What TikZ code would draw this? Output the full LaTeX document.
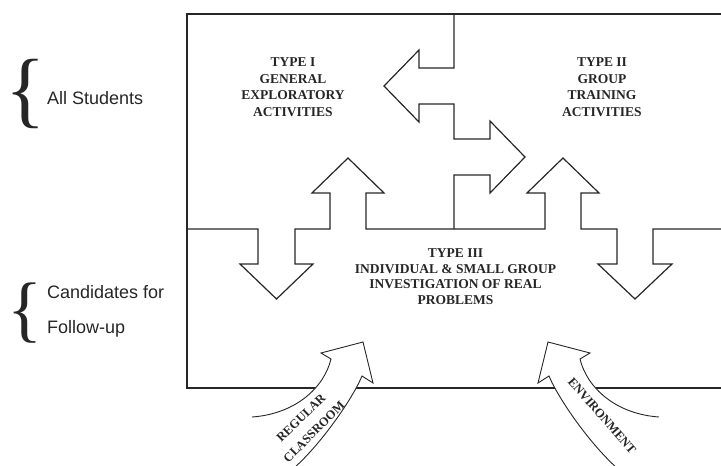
\documentclass[tikz,border=0pt]{standalone}
\usepackage{fontspec}
\setmainfont{Liberation Serif}
\newfontfamily\labelfont{Liberation Sans}

\begin{document}
\begin{tikzpicture}[x=1pt, y=-1pt,
                    wall/.style={draw=black!85, line width=1.2pt, line join=miter},
                    sweep/.style={draw=black!85, fill=white, line width=0.9pt},
                    typetext/.style={font=\bfseries\fontsize{13.5}{16.6}\selectfont, align=center, text=black!85, inner sep=0pt},
                    armtext/.style={font=\bfseries\fontsize{12.5}{14}\selectfont, text=black!85, inner sep=0pt},
                    side/.style={font=\labelfont\fontsize{18}{20}\selectfont, text=black!85, inner sep=0pt, anchor=base west},
                    curly/.style={inner sep=0pt, text=black!85}]

\useasboundingbox (0,0) rectangle (721,466);

% Frame, open at the right side
\draw[wall] (721,14) -- (187,14) -- (187,388) -- (721,388);

% Divider between Type I and Type II, with its two arrows
\draw[wall] (454,14) -- (454,68) -- (419,68) -- (419,50) -- (384,86) -- (419,122) -- (419,104) -- (454,104)
  -- (454,139) -- (490,139) -- (490,121) -- (525,157) -- (490,193) -- (490,175) -- (454,175) -- (454,229);

% Divider above Type III, with the up and down arrows
\draw[wall] (187,229) -- (258,229) -- (258,264) -- (240,264) -- (276.5,299) -- (313,264) -- (295,264) -- (295,229)
  -- (330,229) -- (330,193) -- (312,193) -- (348,158) -- (384,193) -- (366,193) -- (366,229)
  -- (545,229) -- (545,193) -- (527,193) -- (563,158) -- (599,193) -- (581,193) -- (581,229)
  -- (617,229) -- (617,264) -- (598,264) -- (635,299) -- (672,264) -- (653,264) -- (653,229) -- (721,229);

% Curved arrows coming in from below
\filldraw[sweep] (252,417) .. controls (295,414) and (324,388) .. (331,359) -- (321,353) -- (363,342)
  -- (373,383) -- (362,376) .. controls (352,400) and (320,445) .. (294,468);
\filldraw[sweep] (659,417) .. controls (616,414) and (587,388) .. (580,359) -- (590,353) -- (548,342)
  -- (538,383) -- (549,376) .. controls (559,400) and (591,445) .. (617,468);

% Box titles
\node[typetext] (typeone) at (293,87) {TYPE I\\GENERAL\\EXPLORATORY\\ACTIVITIES};
\node[typetext] (typetwo) at (602,87) {TYPE II\\GROUP\\TRAINING\\ACTIVITIES};
\node[typetext, font=\bfseries\fontsize{13.5}{15.7}\selectfont] (typethree) at (455.5,276.5)
  {TYPE III\\INDIVIDUAL \& SMALL GROUP\\INVESTIGATION OF REAL\\PROBLEMS};

% Words on the curved arrows
\node[armtext, rotate=44] (regular) at (301,418) {REGULAR};
\node[armtext, rotate=45] (classroom) at (314,432) {CLASSROOM};
\node[armtext, rotate=-49] (environ) at (602,416) {ENVIRONMENT};

% Braces and side labels
\node[curly, font=\fontsize{84}{84}\selectfont] (bracetop) at (26,94) {\{};
\node[side] (allstud) at (47,104.5) {All Students};
\node[curly, font=\fontsize{73}{73}\selectfont] (bracelow) at (25,313) {\{};
\node[side] (cand) at (47,298.5) {Candidates for};
\node[side] (follow) at ([yshift=-35pt]cand.base west) {Follow-up};

\end{tikzpicture}
\end{document}
